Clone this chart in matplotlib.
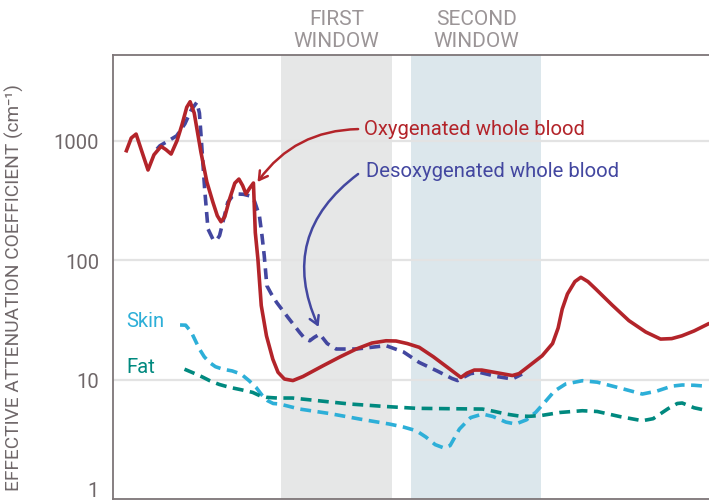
import numpy as np
import matplotlib
matplotlib.use('Agg')
import matplotlib.pyplot as plt
from matplotlib.transforms import ScaledTranslation

# wavelength (nm) / effective attenuation coefficient (1/cm)
oxy_x = [236, 249, 262, 278, 294, 310, 329, 342, 356, 372, 385, 398, 407, 418, 436,
         452, 468, 480, 490, 500, 513, 527, 538, 548, 557, 567, 577, 582, 589, 598,
         612, 629, 643, 660, 683, 710, 740, 763, 810, 853, 895, 933, 960, 990, 1022,
         1060, 1100, 1134, 1150, 1170, 1190, 1230, 1272, 1290, 1310, 1352, 1380,
         1395, 1406, 1420, 1440, 1456, 1475, 1496, 1540, 1585, 1630, 1670, 1700,
         1727, 1760, 1797]
oxy_y = [822, 1050, 1133, 800, 567, 760, 894, 840, 771, 1000, 1350, 1900, 2112, 1700,
         801, 450, 306, 235, 209, 230, 324, 440, 476, 420, 357, 400, 441, 170, 102,
         41.6, 23.2, 14.8, 11.5, 10.1, 9.8, 10.6, 11.9, 13.0, 15.5, 18.0, 20.2, 21.1,
         21.0, 20.0, 18.6, 15.5, 12.5, 10.4, 11.3, 12.0, 12.0, 11.4, 10.8, 11.2, 12.5,
         15.8, 20, 27, 38.9, 52, 66, 71.7, 66, 57.2, 42, 31.1, 25, 21.8, 22, 23.2,
         25.5, 29.1]

deoxy_x = [318, 326, 350, 371, 393, 410, 425, 432, 437, 446, 455, 468, 477, 486, 497,
           508, 520, 535, 550, 566, 580, 593, 600, 606, 613, 625, 639, 670, 701, 715,
           728, 740, 755, 775, 799, 853, 900, 933, 980, 1022, 1070, 1110, 1125, 1140,
           1160, 1183, 1230, 1272, 1298]
deoxy_y = [849, 905, 1000, 1096, 1380, 1800, 2088, 1700, 1030, 395, 182, 150, 145, 160,
           220, 304, 340, 357, 355, 345, 310, 235, 160, 109, 61, 52, 44.3, 33, 24.8, 22,
           21.1, 22.5, 24.0, 20, 18.0, 18.0, 18.7, 19.2, 17.0, 13.9, 11.8, 10.2, 9.8,
           10.4, 11.2, 11.5, 10.6, 10.1, 11.1]

skin_x = [380, 395, 410, 432, 445, 459, 475, 495, 520, 544, 565, 584, 600, 615, 630,
          647, 701, 780, 862, 942, 980, 1014, 1040, 1065, 1089, 1105, 1130, 1160, 1192,
          1220, 1255, 1281, 1310, 1335, 1360, 1385, 1415, 1460, 1500, 1560, 1621, 1660,
          1700, 1728, 1760, 1797]
skin_y = [28.6, 28.5, 25, 18.0, 15.5, 13.9, 12.8, 12.2, 11.8, 11.1, 9.8, 8.6, 7.4, 6.65,
          6.3, 6.24, 5.66, 5.2, 4.67, 4.24, 4.0, 3.73, 3.3, 2.85, 2.67, 2.8, 3.85, 4.8,
          5.14, 4.9, 4.4, 4.24, 4.6, 5.32, 6.5, 8.0, 9.17, 9.77, 9.5, 8.5, 7.56, 8.0, 8.8,
          9.0, 8.95, 8.77]

fat_x = [392, 423, 440, 459, 485, 513, 545, 575, 595, 611, 640, 682, 760, 835, 930,
         1014, 1100, 1192, 1225, 1255, 1290, 1317, 1350, 1400, 1460, 1500, 1560, 1621,
         1650, 1690, 1715, 1728, 1760, 1797]
fat_y = [12.2, 11.1, 10.5, 9.8, 9.1, 8.6, 8.2, 7.8, 7.3, 7.1, 7.0, 7.0, 6.6, 6.24, 5.95,
         5.74, 5.7, 5.66, 5.4, 5.14, 4.95, 4.92, 5.0, 5.3, 5.48, 5.4, 4.9, 4.52, 4.7, 5.7,
         6.3, 6.36, 5.8, 5.48]

windows = [(650, 950), (1000, 1350)]
window_labels = ['FIRST\nWINDOW', 'SECOND\nWINDOW']
window_colors = ['#e6e7e7', '#dce7ec']

yticks = [1, 10, 100, 1000]
ytick_labels = ['1', '10', '100', '1000']

RED = '#b3242a'
BLUE = '#4347a0'
SKIN = '#2dafd8'
FAT = '#00897f'
GREY = '#6f6769'

plt.rcParams['font.family'] = ['Roboto', 'DejaVu Sans']

fig = plt.figure(figsize=(7.09, 5.02), dpi=100)
ax = fig.add_axes([113 / 709, 2 / 502, 596 / 709, 444 / 502])

for (a, b), c in zip(windows, window_colors):
    ax.axvspan(a, b, color=c, lw=0, zorder=0)

for t in yticks[1:]:
    ax.axhline(t, color='#e3e3e3', lw=1.6, zorder=1)

dash = (3.0, 1.8)
l, = ax.plot(skin_x, skin_y, color=SKIN, lw=2.6, zorder=3)
l.set_dashes(dash)
l, = ax.plot(fat_x, fat_y, color=FAT, lw=2.6, zorder=3)
l.set_dashes(dash)
l, = ax.plot(deoxy_x, deoxy_y, color=BLUE, lw=2.6, zorder=4)
l.set_dashes(dash)
ax.plot(oxy_x, oxy_y, color=RED, lw=2.6, zorder=5, solid_joinstyle='round')

ax.set_yscale('log')
ax.set_xlim(200, 1800)
ax.set_ylim(1, 5200)
ax.set_xticks([])
ax.set_yticks(yticks)
ax.set_yticklabels(ytick_labels)
ax.minorticks_off()
ax.tick_params(axis='y', length=0, pad=10, labelsize=14.5, labelcolor=GREY)
# bottom label sits a little above the spine
lab1 = ax.get_yticklabels()[0]
lab1.set_transform(lab1.get_transform() + ScaledTranslation(0, 10 / 100, fig.dpi_scale_trans))

for s in ['left', 'top', 'bottom']:
    ax.spines[s].set_color('#7d7577')
    ax.spines[s].set_linewidth(1.3)
ax.spines['right'].set_visible(False)

ax.set_ylabel('EFFECTIVE ATTENUATION COEFFICIENT (cm\u207b\u00b9)', fontsize=13.8,
              color=GREY)
ax.yaxis.set_label_coords(-0.15, 0.478)

for (a, b), txt in zip(windows, window_labels):
    ax.text((a + b) / 2, 1.012, txt, transform=ax.get_xaxis_transform(),
            ha='center', va='bottom', fontsize=15, color='#9b9597',
            linespacing=1.2)

ax.text(875, 10 ** 3.105, 'Oxygenated whole blood', color=RED, fontsize=14.6,
        va='center', ha='left')
ax.text(878, 10 ** 2.753, 'Desoxygenated whole blood', color=BLUE, fontsize=14.6,
        va='center', ha='left')
ax.text(235, 10 ** 1.498, 'Skin', color=SKIN, fontsize=14.6, va='center', ha='left')
ax.text(235, 10 ** 1.105, 'Fat', color=FAT, fontsize=14.6, va='center', ha='left')

ax.annotate('', xy=(588, 10 ** 2.653), xytext=(858, 10 ** 3.096),
            arrowprops=dict(arrowstyle='->,head_length=0.6,head_width=0.35',
                            color=RED, lw=1.8,
                            connectionstyle='arc3,rad=0.25', shrinkA=0, shrinkB=0))
ax.annotate('', xy=(752, 10 ** 1.44), xytext=(858, 10 ** 2.72),
            arrowprops=dict(arrowstyle='->,head_length=0.6,head_width=0.35',
                            color=BLUE, lw=1.8,
                            connectionstyle='arc3,rad=0.4', shrinkA=0, shrinkB=0))

fig.savefig('out.png', dpi=100)
